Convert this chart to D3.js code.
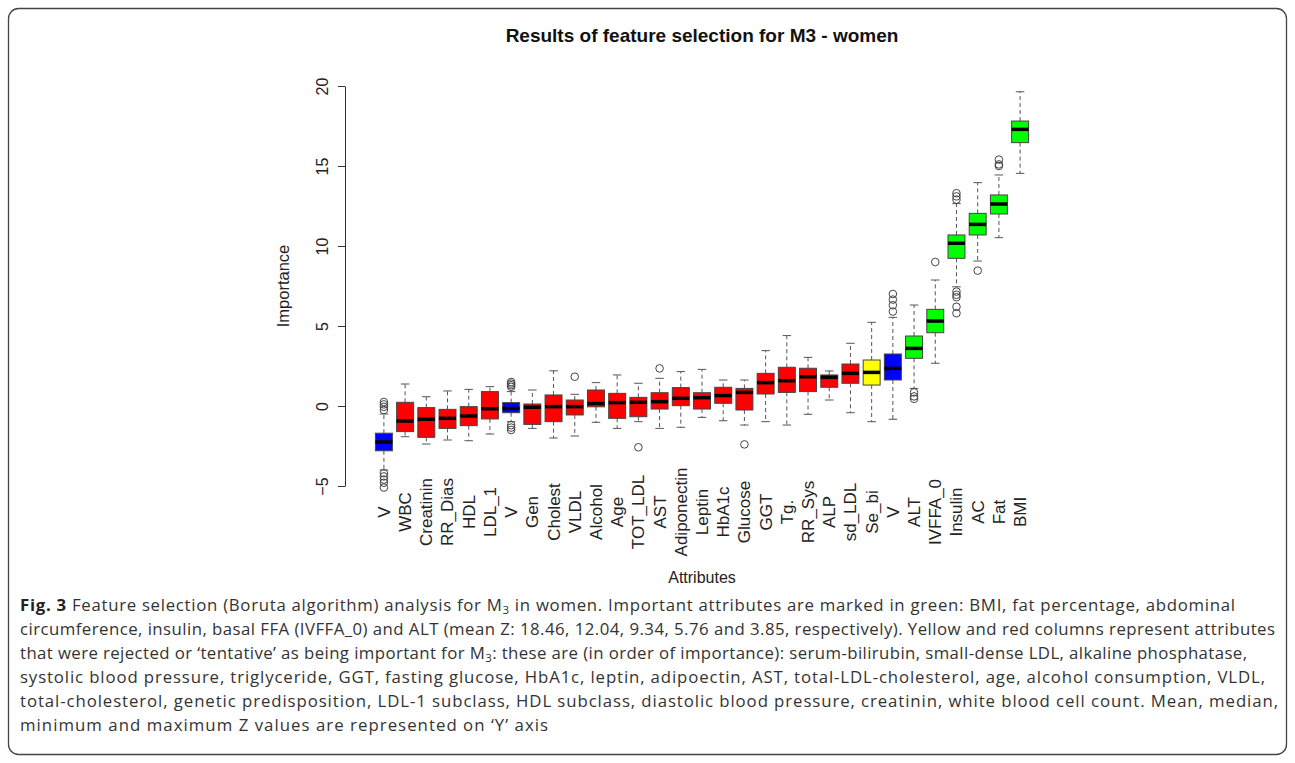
<!DOCTYPE html>
<html><head><meta charset="utf-8">
<script src="https://cdn.jsdelivr.net/npm/d3@7"></script>
<style>body{margin:0;background:#fff}svg{display:block}</style>
</head><body><svg id="c" width="1295" height="763"></svg>
<script>
// ---- data ----
const attributes = ["V","WBC","Creatinin","RR_Dias","HDL","LDL_1","V","Gen","Cholest","VLDL","Alcohol","Age","TOT_LDL","AST","Adiponectin","Leptin","HbA1c","Glucose","GGT","Tg.","RR_Sys","ALP","sd_LDL","Se_bi","V","ALT","IVFFA_0","Insulin","AC","Fat","BMI"];
const decisions = ["shadow","rejected","rejected","rejected","rejected","rejected","shadow","rejected","rejected","rejected","rejected","rejected","rejected","rejected","rejected","rejected","rejected","rejected","rejected","rejected","rejected","rejected","rejected","tentative","shadow","confirmed","confirmed","confirmed","confirmed","confirmed","confirmed"];
const whiskerLow  = [-4.0,-1.92,-2.375,-2.125,-2.17,-1.75,-0.98,-1.4,-2.0,-1.875,-1.02,-1.4,-0.98,-1.4,-1.33,-0.71,-0.92,-1.19,-0.98,-1.19,-0.52,0.375,-0.42,-0.98,-0.83,1.1,2.67,7.45,9.06,10.52,14.54];
const q1          = [-2.8,-1.6,-1.96,-1.4,-1.23,-0.81,-0.42,-1.15,-0.98,-0.56,-0.05,-0.77,-0.67,-0.19,0.02,-0.19,0.17,-0.25,0.75,0.85,0.9,1.17,1.42,1.31,1.625,2.98,4.58,9.23,10.69,12.0,16.46];
const median      = [-2.25,-0.94,-0.83,-0.77,-0.625,-0.17,-0.15,-0.08,-0.04,-0.04,0.15,0.21,0.23,0.27,0.48,0.52,0.65,0.85,1.46,1.58,1.83,1.79,2.04,2.1,2.35,3.6,5.31,10.17,11.35,12.625,17.29];
const q3          = [-1.7,0.23,-0.1,-0.21,-0.04,0.9,0.21,0.125,0.69,0.375,1.0,0.79,0.54,0.83,1.15,0.83,1.17,1.1,2.04,2.42,2.36,1.94,2.625,2.875,3.25,4.375,6.04,10.69,12.04,13.19,17.81];
const whiskerHigh = [-0.5,1.375,0.58,0.94,1.04,1.21,0.9,1.0,2.2,0.73,1.46,1.94,1.42,1.73,2.15,2.29,1.625,1.625,3.46,4.4,3.04,2.19,3.92,5.23,5.54,6.31,7.875,12.65,13.96,14.44,19.64];
const outliers = [
  [0.25,0.1,-0.05,-0.25,-4.2,-4.4,-4.6,-4.8,-5.1],[],[],[],[],[],
  [1.5,1.4,1.3,1.2,-1.2,-1.35,-1.5],[],[],[1.83],[],[],[-2.58],[2.35],[],[],[],[-2.4],[],[],[],[],[],[],
  [5.9,6.3,6.65,7.0],[0.85,0.6,0.45],[9.0],[13.3,13.1,12.9,7.15,6.95,6.8,6.2,5.8],[8.46],[15.4,15.1,15.0],[]
];
const yTicks = [-5,0,5,10,15,20];
const decisionColor = {shadow:"#0000FF", rejected:"#FF0000", tentative:"#FFFF00", confirmed:"#00FF00"};

const chartTitle = "Results of feature selection for M3 - women";
const captionLines = [
  [{t:"Fig. 3",b:true},{t:" Feature selection (Boruta algorithm) analysis for M"},{t:"3",sub:true},{t:" in women. Important attributes are marked in green: BMI, fat percentage, abdominal"}],
  [{t:"circumference, insulin, basal FFA (IVFFA_0) and ALT (mean Z: 18.46, 12.04, 9.34, 5.76 and 3.85, respectively). Yellow and red columns represent attributes"}],
  [{t:"that were rejected or \u2018tentative\u2019 as being important for M"},{t:"3",sub:true},{t:": these are (in order of importance): serum-bilirubin, small-dense LDL, alkaline phosphatase,"}],
  [{t:"systolic blood pressure, triglyceride, GGT, fasting glucose, HbA1c, leptin, adipoectin, AST, total-LDL-cholesterol, age, alcohol consumption, VLDL,"}],
  [{t:"total-cholesterol, genetic predisposition, LDL-1 subclass, HDL subclass, diastolic blood pressure, creatinin, white blood cell count. Mean, median,"}],
  [{t:"minimum and maximum Z values are represented on \u2018Y\u2019 axis"}]
];
const captionLineEnds = [1235, 1275, 1247, 1265, 1278, 548];

// ---- drawing ----
const svg = d3.select("#c");
svg.append("rect").attr("width",1295).attr("height",763).attr("fill","#fff");
svg.append("rect").attr("x",8.5).attr("y",8.5).attr("width",1278).attr("height",746)
  .attr("rx",10).attr("fill","none").attr("stroke","#444").attr("stroke-width",1.3);

const n = attributes.length;
const x = d3.scaleLinear().domain([-0.74, n + 1.74]).range([347, 1057]);
const y = d3.scaleLinear().domain([-5, 20]).range([486, 86]);
const step = x(2) - x(1);
const bw = step * 0.8;
const font = "'Liberation Sans', Arial, Helvetica, sans-serif";

svg.append("text").attr("x", 702).attr("y", 42).attr("text-anchor","middle")
  .attr("font-family", font).attr("font-weight","bold").attr("font-size",19).attr("fill","#111").text(chartTitle);

// y axis
const yAxis = svg.append("g").attr("transform","translate(345,0)")
  .call(d3.axisLeft(y).tickValues(yTicks).tickSize(7).tickSizeOuter(0).tickFormat(d3.format("d")));
yAxis.select(".domain").attr("stroke","#333");
yAxis.selectAll(".tick line").attr("stroke","#333");
yAxis.selectAll(".tick text").attr("font-family",font).attr("font-size",16).attr("fill","#222")
  .attr("x",0).attr("dy",null).attr("y",-17).attr("text-anchor","middle").attr("transform","rotate(-90)");

svg.append("text").attr("transform","translate(289,286) rotate(-90)").attr("text-anchor","middle")
  .attr("font-family",font).attr("font-size",16.5).attr("fill","#222").text("Importance");
svg.append("text").attr("x",702).attr("y",583).attr("text-anchor","middle")
  .attr("font-family",font).attr("font-size",16).attr("fill","#222").text("Attributes");

// boxes
const idx = d3.range(n);
const g = svg.append("g");
const box = g.selectAll("g.box").data(idx).join("g").attr("class","box");
box.append("line").attr("x1",i=>x(i+1)).attr("x2",i=>x(i+1)).attr("y1",i=>y(q3[i])).attr("y2",i=>y(whiskerHigh[i]))
  .attr("stroke","#555").attr("stroke-dasharray","4,3");
box.append("line").attr("x1",i=>x(i+1)).attr("x2",i=>x(i+1)).attr("y1",i=>y(q1[i])).attr("y2",i=>y(whiskerLow[i]))
  .attr("stroke","#555").attr("stroke-dasharray","4,3");
box.append("line").attr("x1",i=>x(i+1)-bw/4).attr("x2",i=>x(i+1)+bw/4).attr("y1",i=>y(whiskerHigh[i])).attr("y2",i=>y(whiskerHigh[i]))
  .attr("stroke","#555");
box.append("line").attr("x1",i=>x(i+1)-bw/4).attr("x2",i=>x(i+1)+bw/4).attr("y1",i=>y(whiskerLow[i])).attr("y2",i=>y(whiskerLow[i]))
  .attr("stroke","#555");
box.append("rect").attr("x",i=>x(i+1)-bw/2).attr("width",bw).attr("y",i=>y(q3[i])).attr("height",i=>y(q1[i])-y(q3[i]))
  .attr("fill",i=>decisionColor[decisions[i]]).attr("stroke","#444").attr("stroke-width",1);
box.append("line").attr("x1",i=>x(i+1)-bw/2).attr("x2",i=>x(i+1)+bw/2).attr("y1",i=>y(median[i])).attr("y2",i=>y(median[i]))
  .attr("stroke","#000").attr("stroke-width",3.5);
box.selectAll("circle").data(i=>outliers[i].map(v=>({i,v}))).join("circle")
  .attr("cx",d=>x(d.i+1)).attr("cy",d=>y(d.v)).attr("r",3.8).attr("fill","none").attr("stroke","#444").attr("stroke-width",1);

// x labels (vertical, centred)
g.selectAll("text.xl").data(idx).join("text").attr("class","xl")
  .attr("transform",i=>`translate(${x(i+1)},512) rotate(-90)`).attr("dy","0.35em").attr("text-anchor","middle")
  .attr("font-family",font).attr("font-size",17).attr("fill","#222").text(i=>attributes[i]);

// caption
const cap = svg.append("g");
captionLines.forEach((line,li)=>{
  const t = cap.append("text").attr("x",20).attr("y",611+li*24)
    .attr("font-family","'Open Sans', 'Noto Sans', sans-serif").attr("font-size",16.8).attr("fill","#333")
    .attr("textLength", captionLineEnds[li]-20).attr("lengthAdjust","spacing");
  line.forEach(s=>{
    if (s.sub) {
      t.append("tspan").attr("baseline-shift","-3").attr("font-size",11.5).text(s.t);
    } else {
      t.append("tspan").attr("font-weight",s.b?"bold":null).attr("fill",s.b?"#222":null).text(s.t);
    }
  });
});
</script></body></html>
